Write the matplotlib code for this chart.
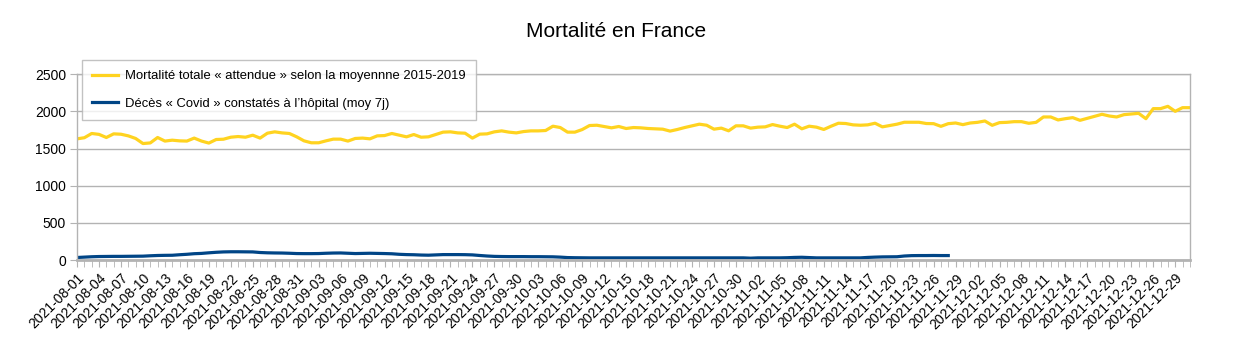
import matplotlib
matplotlib.use("Agg")
import matplotlib.pyplot as plt
import pandas as pd

plt.rcParams['font.family'] = ['Liberation Sans', 'DejaVu Sans']

# jours du 1er aout au 31 decembre 2021
jours = pd.date_range('2021-08-01', '2021-12-31', freq='D')
etiquettes = [d.strftime('%Y-%m-%d') for d in jours]

# mortalite totale attendue (moyenne 2015-2019), un point par jour
mortalite_attendue = [
    1630, 1645, 1702, 1690, 1648, 1697, 1692, 1670, 1635, 1567,
    1575, 1648, 1600, 1612, 1603, 1600, 1640, 1600, 1573, 1621,
    1625, 1652, 1661, 1652, 1679, 1640, 1706, 1724, 1710, 1702,
    1657, 1603, 1577, 1577, 1603, 1626, 1626, 1600, 1635, 1640,
    1630, 1670, 1674, 1702, 1679, 1657, 1688, 1652, 1657, 1688,
    1720, 1724, 1710, 1706, 1640, 1693, 1697, 1724, 1737, 1720,
    1710, 1728, 1737, 1737, 1742, 1800, 1782, 1720, 1720, 1755,
    1809, 1813, 1796, 1778, 1796, 1769, 1782, 1778,
    1769, 1765, 1760, 1734, 1756, 1782, 1805, 1827, 1813, 1760,
    1774, 1738, 1805, 1805, 1774, 1787, 1791, 1822, 1800, 1782,
    1827, 1765, 1800, 1787, 1756, 1800, 1840, 1836, 1818, 1813,
    1818, 1840, 1791, 1809, 1827, 1853, 1853, 1853, 1836,
    1834, 1798, 1834, 1843, 1821, 1843, 1852, 1870, 1812, 1848,
    1852, 1861, 1861, 1839, 1852, 1924, 1924, 1884, 1901, 1915,
    1879, 1906, 1933, 1960, 1937, 1924, 1955, 1964, 1973, 1901,
    2036, 2036, 2067, 2000, 2049, 2049,
]

# deces covid a l'hopital, moyenne 7 jours (s'arrete au 28/11)
deces_covid = [
    35, 40, 45, 48, 49, 50, 50, 51, 52, 53,
    58, 62, 64, 65, 72, 78, 86, 90, 98, 105,
    110, 112, 112, 111, 110, 102, 98, 96, 95, 92,
    88, 87, 87, 88, 92, 95, 96, 92, 88, 90,
    92, 90, 88, 85, 78, 74, 72, 68, 66, 70,
    74, 74, 74, 73, 70, 62, 55, 50, 48, 47,
    47, 47, 46, 46, 45, 44, 40, 34, 32, 31,
    30, 30, 30, 30, 30, 30, 30, 30, 30, 30,
    30, 30, 30, 30, 30, 30, 30, 30, 30, 30,
    30, 30, 26, 30, 30, 30, 30, 32, 36, 38,
    34, 30, 30, 30, 30, 30, 30, 30, 36, 40,
    43, 44, 45, 55, 60, 61, 61, 62, 61, 61,
]

jaune = '#ffd320'
bleu = '#004586'
gris = '#b3b3b3'

fig = plt.figure(figsize=(12.33, 3.4), dpi=100)
ax = fig.add_axes([0.0625, 0.235, 0.9025, 0.547])

x1 = range(len(mortalite_attendue))
x2 = range(len(deces_covid))
ax.plot(x1, mortalite_attendue, color=jaune, lw=2.3,
        label='Mortalité totale « attendue » selon la moyennne 2015-2019')
ax.plot(x2, deces_covid, color=bleu, lw=2.3,
        label='Décès « Covid » constatés à l’hôpital (moy 7j)')

ax.set_xlim(0, len(jours) - 1)
ax.set_ylim(0, 2500)
ax.set_yticks(range(0, 2501, 500))
ax.grid(axis='y', color=gris, lw=1)
ax.set_axisbelow(True)

# une graduation par jour, une etiquette tous les 3 jours
ax.set_xticks(range(len(jours)), minor=True)
ax.set_xticks(range(0, len(jours), 3))
ax.set_xticklabels(etiquettes[::3], rotation=45, ha='right', va='top',
                   rotation_mode='anchor', fontsize=10)
ax.tick_params(axis='x', which='both', length=5, color=gris, pad=3)
ax.tick_params(axis='y', length=5, color=gris, labelsize=10, pad=3)

for s in ax.spines.values():
    s.set_color(gris)
    s.set_linewidth(1)
ax.spines['bottom'].set_linewidth(2)

leg = ax.legend(loc='upper left', bbox_to_anchor=(0.0045, 1.075),
                borderaxespad=0, fontsize=9.4, frameon=True, fancybox=False,
                handlelength=2.0, handletextpad=0.55, borderpad=0.75,
                labelspacing=1.2)
leg.get_frame().set_edgecolor(gris)
leg.get_frame().set_linewidth(1)

fig.suptitle('Mortalité en France', fontsize=15, y=0.935)

fig.savefig('out.png', dpi=100)
